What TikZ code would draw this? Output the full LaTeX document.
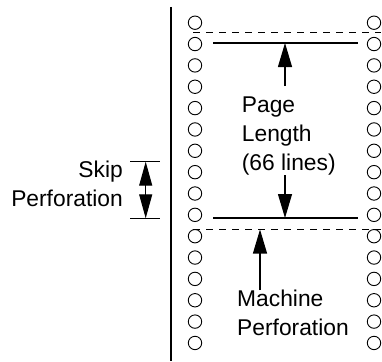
\documentclass[tikz,border=0pt]{standalone}
\usepackage{fontspec}
\setmainfont{Liberation Sans}
\usetikzlibrary{arrows.meta}

\begin{document}
\begin{tikzpicture}[x=1pt,y=-1pt]
\tikzset{lbl/.style={inner sep=0pt,font=\fontsize{22.8}{28.6}\selectfont},
hole/.style={line width=0.9pt},
arr/.style={line width=1.1pt,-{Triangle[length=24pt,width=14pt]}},
perf/.style={line width=1.1pt,dash pattern=on 7pt off 6pt}}
\useasboundingbox (0,0) rectangle (382,361);
\draw[line width=1.1pt](171,7) -- (171,361);
\foreach \i in {0,...,15}{
\draw[hole](195,22.7+21.35*\i) circle[radius=6.7pt];
\draw[hole](374,22.7+21.35*\i) circle[radius=6.7pt];
}
\coordinate (ptop) at (285,43);
\coordinate (pbot) at (285,218);
\coordinate (mperf) at (260,229.5);
\coordinate (sktop) at (145.7,161.7);
\coordinate (skbot) at (145.7,218.3);
\draw[perf](193,32.5) -- (381,32.5);
\draw[line width=1.1pt](213,43) -- (358,43);
\draw[line width=1.1pt](213,218) -- (358,218);
\draw[perf](193,229.5) -- (381,229.5);
\node[lbl,align=left,anchor=north west](page) at (241.7,97){Page\\Length\\(66 lines)};
\draw[arr]([yshift=11pt]page.north -| ptop) -- (ptop);
\draw[arr](page.south -| pbot) -- (pbot);
\node[lbl,align=left,anchor=north west](mach) at (237,290){Machine\\Perforation};
\draw[arr](mach.north -| mperf) -- (mperf);
\node[lbl,align=right,anchor=north east](skip) at (123,161){Skip\\Perforation};
\draw[line width=1.1pt](130,161.7) -- (160,161.7);
\draw[line width=1.1pt](130,218.3) -- (160,218.3);
\draw[line width=1.1pt,{Triangle[length=24pt,width=13pt]}-{Triangle[length=24pt,width=13pt]}](sktop) -- (skbot);
\end{tikzpicture}
\end{document}
